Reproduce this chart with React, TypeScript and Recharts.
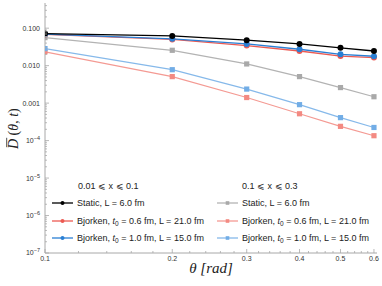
import React from "react";
import { LineChart, Line, XAxis, YAxis } from "recharts";

const theta = [0.1, 0.2, 0.3, 0.4, 0.5, 0.6];
const staticLow = [0.072, 0.062, 0.048, 0.038, 0.030, 0.0246];
const bj06Low = [0.068, 0.050, 0.0344, 0.0246, 0.018, 0.0164];
const bj10Low = [0.069, 0.052, 0.038, 0.0274, 0.020, 0.0178];
const staticHigh = [0.056, 0.0257, 0.0111, 0.0051, 0.0026, 0.00148];
const bj06High = [0.0234, 0.0051, 0.00141, 0.00052, 0.00024, 0.000135];
const bj10High = [0.0285, 0.0078, 0.00237, 0.00091, 0.00041, 0.000224];

const xMajor = [0.1, 0.2, 0.3, 0.4, 0.5, 0.6];
const xMinor = [0.12, 0.14, 0.16, 0.18, 0.22, 0.24, 0.26, 0.28, 0.32, 0.34, 0.36, 0.38, 0.42, 0.44, 0.46, 0.48, 0.52, 0.54, 0.56, 0.58];
const yExponents = [-7, -6, -5, -4, -3, -2, -1];
const yMinorMult = [2, 3, 4, 5, 6, 7, 8, 9];

const legendTitles = ["0.01 \u2a7d x \u2a7d 0.1", "0.1 \u2a7d x \u2a7d 0.3"];
const legendKinds = ["static", "bjorken", "bjorken"];
const legendT0 = ["", "0.6", "1.0"];
const legendL = ["6.0", "21.0", "15.0"];

const FRAME = "#a8a8a8";
const TICKTEXT = "#333";
const colorsLow = ["#000000", "#ec5a52", "#2a7fd4"];
const colorsHigh = ["#a9a9a9", "#f38a82", "#72ade6"];
const lineHigh = ["#b3b3b3", "#f49a93", "#86b9ea"];

const rows = theta.map((t, i) => ({
  theta: t,
  staticLow: staticLow[i],
  bj06Low: bj06Low[i],
  bj10Low: bj10Low[i],
  staticHigh: staticHigh[i],
  bj06High: bj06High[i],
  bj10High: bj10High[i],
}));

const xTicks = [...xMajor, ...xMinor].sort((a, b) => a - b);
const yTicks: number[] = [];
yExponents.forEach((e) => {
  yTicks.push(Math.pow(10, e));
  if (e < -1) yMinorMult.forEach((m) => yTicks.push(m * Math.pow(10, e)));
  else [2, 3, 4].forEach((m) => yTicks.push(m * Math.pow(10, e)));
});

const isXMajor = (v: number) => Math.abs(v * 10 - Math.round(v * 10)) < 1e-6;
const isYMajor = (v: number) => {
  const l = Math.log10(v);
  return Math.abs(l - Math.round(l)) < 1e-6;
};

const XTick = (p: any) => {
  const { x, y, payload, side } = p;
  const v = payload.value;
  const major = isXMajor(v);
  const len = major ? 4 : 2;
  const dir = side === "bottom" ? -1 : 1;
  return (
    <g>
      <line x1={x} x2={x} y1={y} y2={y + dir * len} stroke={FRAME} strokeWidth={0.8} />
      {side === "bottom" && major ? (
        <text x={x} y={y + 8} textAnchor="middle" fontSize={7} fill={TICKTEXT} fontFamily="Liberation Sans, Arial, sans-serif">
          {v.toFixed(1)}
        </text>
      ) : null}
    </g>
  );
};

const YTick = (p: any) => {
  const { x, y, payload, side } = p;
  const v = payload.value;
  const major = isYMajor(v);
  const len = major ? 4 : 2;
  const dir = side === "left" ? 1 : -1;
  const e = Math.round(Math.log10(v));
  let label: any = null;
  if (side === "left" && major) {
    if (e >= -3) {
      label = (
        <text x={x - 5} y={y} dy="0.35em" textAnchor="end" fontSize={7} fill={TICKTEXT} fontFamily="Liberation Sans, Arial, sans-serif">
          {v.toFixed(3)}
        </text>
      );
    } else {
      label = (
        <text x={x - 5} y={y} dy="0.35em" textAnchor="end" fontSize={7} fill={TICKTEXT} fontFamily="Liberation Sans, Arial, sans-serif">
          10
          <tspan dy={-3} fontSize={5.5}>{"\u2212" + Math.abs(e)}</tspan>
        </text>
      );
    }
  }
  return (
    <g>
      <line x1={x} x2={x + dir * len} y1={y} y2={y} stroke={FRAME} strokeWidth={0.8} />
      {label}
    </g>
  );
};

const squareDot = (color: string) => (p: any) => {
  const { cx, cy, index } = p;
  if (cx == null || cy == null) return <g key={index} />;
  return <rect key={index} x={cx - 2.6} y={cy - 2.6} width={5.2} height={5.2} fill={color} />;
};

const YLabel = (p: any) => {
  const vb = p.viewBox || { y: 3, height: 250 };
  const cx = 13;
  const cy = vb.y + vb.height / 2;
  return (
    <g transform={`translate(${cx}, ${cy}) rotate(-90)`}>
      <text x={-21} y={5} textAnchor="start" fontSize={14} fontFamily="Liberation Serif, Times New Roman, serif" fill="#222">
        <tspan fontStyle="italic">D</tspan>
        {" ("}
        <tspan fontStyle="italic">{"\u03b8"}</tspan>
        {", "}
        <tspan fontStyle="italic">t</tspan>
        {")"}
      </text>
      <line x1={-19.2} x2={-9.8} y1={-6.3} y2={-6.3} stroke="#222" strokeWidth={0.8} />
    </g>
  );
};

const XLabel = (p: any) => {
  const vb = p.viewBox || { x: 45, width: 332 };
  const cx = vb.x + vb.width / 2;
  return (
    <text x={cx} y={273} textAnchor="middle" fontSize={15} fontFamily="Liberation Serif, Times New Roman, serif" fill="#222" fontStyle="italic">
      {"\u03b8 [rad]"}
    </text>
  );
};

const legendFont: React.CSSProperties = {
  fontFamily: "Liberation Sans, Arial, sans-serif",
  fontSize: 9,
  color: "#222",
  whiteSpace: "nowrap",
  position: "absolute",
  lineHeight: "10px",
};

const LegendEntry = ({ left, top, color, lineColor, marker, idx }: any) => (
  <div style={{ position: "absolute", left, top }}>
    <svg width={22} height={10} style={{ position: "absolute", left: 0, top: 0 }}>
      <line x1={0} x2={21} y1={5} y2={5} stroke={lineColor} strokeWidth={1.3} />
      {marker === "circle" ? (
        <circle cx={10.5} cy={5} r={2} fill={color} />
      ) : (
        <rect x={8.7} y={3.2} width={3.6} height={3.6} fill={color} />
      )}
    </svg>
    <div style={{ ...legendFont, left: 25, top: 0 }}>
      {legendKinds[idx] === "static" ? (
        <span>Static, L = {legendL[idx]} fm</span>
      ) : (
        <span>
          Bjorken, <i>t</i>
          <sub style={{ fontSize: 6.5, verticalAlign: "-2px" }}>0</sub> = {legendT0[idx]} fm, L = {legendL[idx]} fm
        </span>
      )}
    </div>
  </div>
);

export default function App() {
  const rowTops = [198, 216, 233];
  return (
    <div style={{ position: "absolute", left: 0, top: 0, width: 382, height: 286, background: "#fff" }}>
      <LineChart width={382} height={286} data={rows} margin={{ top: 3, right: 5, bottom: 0, left: 0 }}>
        <XAxis
          xAxisId="b"
          dataKey="theta"
          type="number"
          scale="log"
          domain={[0.1, 0.61]}
          allowDataOverflow
          ticks={xTicks}
          interval={0}
          tickSize={0}
          tickMargin={0}
          tickLine={false}
          axisLine={{ stroke: FRAME }}
          height={33}
          tick={(p: any) => <XTick {...p} side="bottom" />}
          label={{ content: (p: any) => <XLabel {...p} /> }}
        />
        <XAxis
          xAxisId="t"
          orientation="top"
          dataKey="theta"
          type="number"
          scale="log"
          domain={[0.1, 0.61]}
          allowDataOverflow
          ticks={xTicks}
          interval={0}
          tickSize={0}
          tickMargin={0}
          tickLine={false}
          axisLine={{ stroke: FRAME }}
          height={0}
          tick={(p: any) => <XTick {...p} side="top" />}
        />
        <YAxis
          yAxisId="l"
          type="number"
          scale="log"
          domain={[1e-7, 0.47]}
          allowDataOverflow
          ticks={yTicks}
          interval={0}
          tickSize={0}
          tickMargin={0}
          tickLine={false}
          axisLine={{ stroke: FRAME }}
          width={45}
          tick={(p: any) => <YTick {...p} side="left" />}
          label={{ content: (p: any) => <YLabel {...p} /> }}
        />
        <YAxis
          yAxisId="r"
          orientation="right"
          type="number"
          scale="log"
          domain={[1e-7, 0.47]}
          allowDataOverflow
          ticks={yTicks}
          interval={0}
          tickSize={0}
          tickMargin={0}
          tickLine={false}
          axisLine={{ stroke: FRAME }}
          width={0}
          tick={(p: any) => <YTick {...p} side="right" />}
        />
        <Line xAxisId="b" yAxisId="l" dataKey="bj06High" stroke={lineHigh[1]} strokeWidth={1.2} isAnimationActive={false} dot={squareDot(colorsHigh[1])} activeDot={false} />
        <Line xAxisId="b" yAxisId="l" dataKey="bj10High" stroke={lineHigh[2]} strokeWidth={1.2} isAnimationActive={false} dot={squareDot(colorsHigh[2])} activeDot={false} />
        <Line xAxisId="b" yAxisId="l" dataKey="staticHigh" stroke={lineHigh[0]} strokeWidth={1.2} isAnimationActive={false} dot={squareDot(colorsHigh[0])} activeDot={false} />
        <Line xAxisId="b" yAxisId="l" dataKey="bj06Low" stroke={colorsLow[1]} strokeWidth={1.3} isAnimationActive={false} dot={{ r: 3, fill: colorsLow[1], stroke: "none" }} activeDot={false} />
        <Line xAxisId="b" yAxisId="l" dataKey="bj10Low" stroke={colorsLow[2]} strokeWidth={1.3} isAnimationActive={false} dot={{ r: 3, fill: colorsLow[2], stroke: "none" }} activeDot={false} />
        <Line xAxisId="b" yAxisId="l" dataKey="staticLow" stroke={colorsLow[0]} strokeWidth={1.3} isAnimationActive={false} dot={{ r: 3, fill: colorsLow[0], stroke: "none" }} activeDot={false} />
      </LineChart>
      <div style={{ ...legendFont, left: 78, top: 181 }}>{legendTitles[0]}</div>
      <div style={{ ...legendFont, left: 242, top: 181 }}>{legendTitles[1]}</div>
      {rowTops.map((t, i) => (
        <LegendEntry key={"l" + i} left={52} top={t} color={colorsLow[i]} lineColor={colorsLow[i]} marker="circle" idx={i} />
      ))}
      {rowTops.map((t, i) => (
        <LegendEntry key={"h" + i} left={217} top={t} color={colorsHigh[i]} lineColor={lineHigh[i]} marker="square" idx={i} />
      ))}
    </div>
  );
}
